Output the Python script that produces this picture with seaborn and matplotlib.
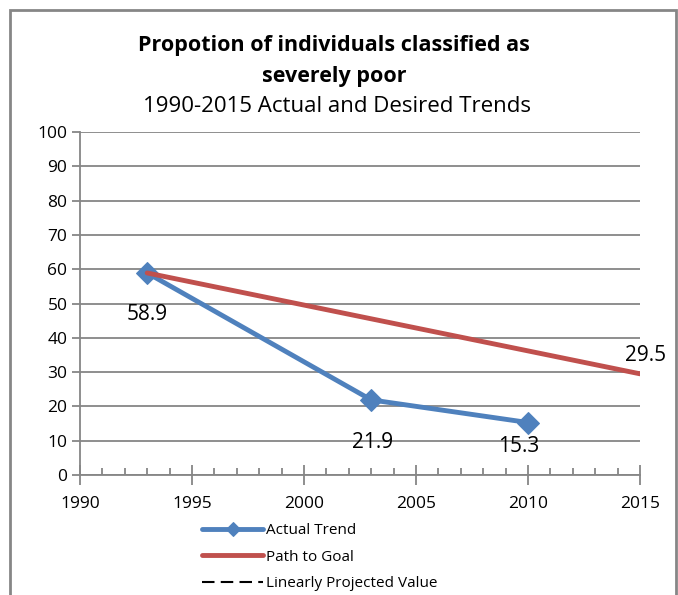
import matplotlib
matplotlib.use("Agg")
import matplotlib.pyplot as plt
import seaborn as sns
import pandas as pd
from matplotlib.ticker import MultipleLocator
from matplotlib.patches import Rectangle

actual_years = [1993, 2003, 2010]
actual_values = [58.9, 21.9, 15.3]
goal_years = [1993, 2015]
goal_values = [58.9, 29.5]
label_actual = "Actual Trend"
label_goal = "Path to Goal"
label_proj = "Linearly Projected Value"
title = "Propotion of individuals classified as\nseverely poor"
subtitle = "1990-2015 Actual and Desired Trends"

sns.set_theme(style="white")
plt.rcParams['font.family'] = ['Open Sans', 'DejaVu Sans']
plt.rcParams['text.color'] = 'black'
plt.rcParams['xtick.labelcolor'] = 'black'
plt.rcParams['ytick.labelcolor'] = 'black'

BLUE = "#4F81BD"
RED = "#C0504D"
GRAY = "#868686"

fig = plt.figure(figsize=(6.78, 5.95), dpi=100)
ax = fig.add_axes([80/678, 1-475/595, 560/678, 343/595])

df_a = pd.DataFrame({"year": actual_years, "value": actual_values})
df_g = pd.DataFrame({"year": goal_years, "value": goal_values})

sns.lineplot(data=df_a, x="year", y="value", ax=ax, color=BLUE, lw=3.5,
             marker="D", markersize=11, markeredgecolor=BLUE, label=label_actual, zorder=3)
sns.lineplot(data=df_g, x="year", y="value", ax=ax, color=RED, lw=3.5,
             label=label_goal, zorder=4)
ax.plot([], [], color="black", lw=1.5, ls=(0, (6, 3)), label=label_proj)

ax.set_xlim(1990, 2015)
ax.set_ylim(0, 100)
ax.xaxis.set_major_locator(MultipleLocator(5))
ax.xaxis.set_minor_locator(MultipleLocator(1))
ax.yaxis.set_major_locator(MultipleLocator(10))
ax.yaxis.grid(True, color=GRAY, lw=1.3)
ax.xaxis.grid(False)
ax.set_axisbelow(True)
ax.set_xlabel("")
ax.set_ylabel("")
for s in ["top", "right"]:
    ax.spines[s].set_visible(False)
for s in ["left", "bottom"]:
    ax.spines[s].set_color(GRAY)
    ax.spines[s].set_linewidth(1.3)
ax.tick_params(axis="x", which="major", direction="inout", length=14, width=1.3,
               color=GRAY, labelcolor="black", labelsize=12.5, pad=8, bottom=True)
ax.tick_params(axis="x", which="minor", direction="in", length=5, width=1.3,
               color=GRAY, bottom=True)
ax.tick_params(axis="y", which="major", direction="out", length=6, width=1.3,
               color=GRAY, labelcolor="black", labelsize=12.5, pad=3, left=True)

# data labels
lab_kw = dict(textcoords="offset points", ha="center", va="center", fontsize=15, color="black")
ax.annotate(f"{actual_values[0]}", (actual_years[0], actual_values[0]), xytext=(0, -30), **lab_kw)
ax.annotate(f"{actual_values[1]}", (actual_years[1], actual_values[1]), xytext=(1, -31), **lab_kw)
ax.annotate(f"{actual_values[2]}", (actual_years[2], actual_values[2]), xytext=(-7, -17), **lab_kw)
ax.annotate(f"{goal_values[1]}", (goal_years[1], goal_values[1]), xytext=(4, 13), **lab_kw)

fig.text(334/678, 1-61/595, title, ha="center", va="center", fontsize=15.5,
         fontweight="bold", linespacing=1.6, color="black")
fig.text(337/678, 1-107/595, subtitle, ha="center", va="center", fontsize=16, color="black")

leg = ax.legend(loc="upper left", bbox_to_anchor=(196/678, 1-517/595),
                bbox_transform=fig.transFigure, frameon=False, fontsize=11,
                handlelength=4.0, handletextpad=0.2, labelspacing=0.75,
                borderaxespad=0)
for h in leg.legend_handles:
    h.set_markersize(7)
for t in leg.get_texts():
    t.set_color("black")

fig.patches.append(Rectangle((10/678, -0.1), 666/678, 1.1 - 10/595, transform=fig.transFigure,
                             fill=False, edgecolor=GRAY, lw=2))

fig.savefig("out.png", dpi=100)
